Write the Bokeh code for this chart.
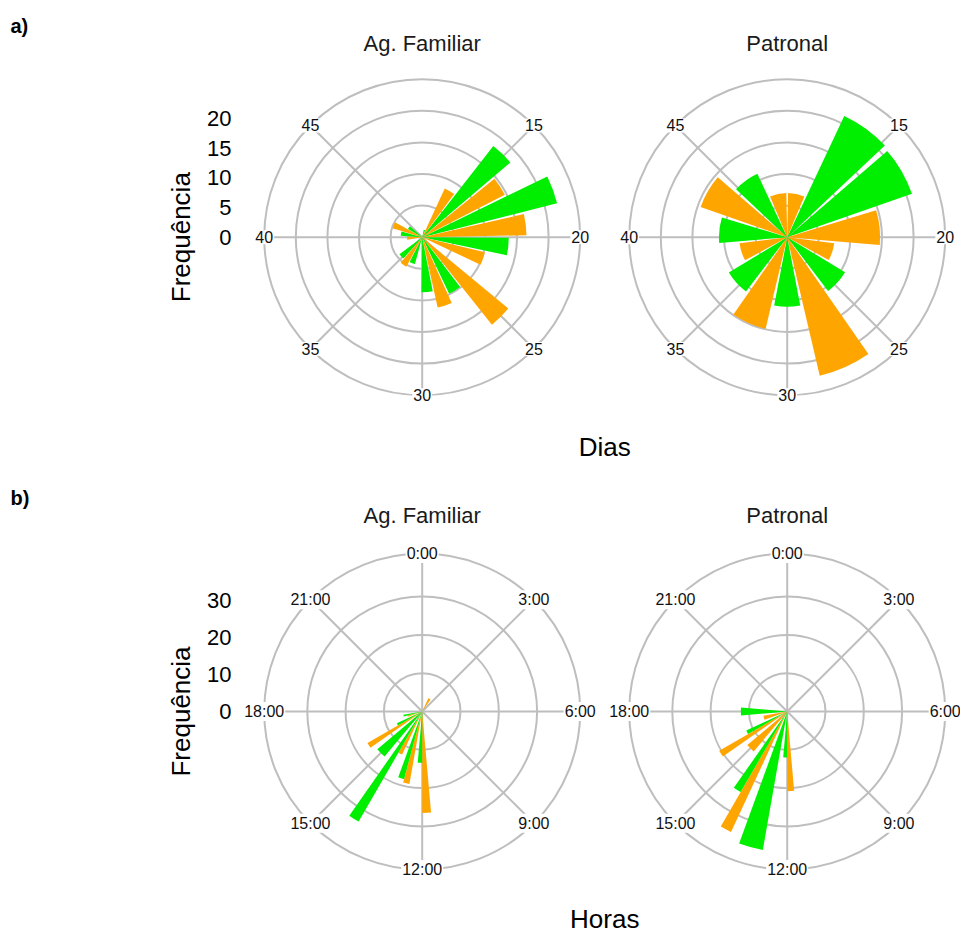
import math
from bokeh.plotting import figure
from bokeh.models import Range1d
from bokeh.layouts import column
from bokeh.embed import file_html
from bokeh.resources import INLINE
from bokeh.core.properties import value

# ------------------------------------------------------------------ data
# a) Dias -- position (day), group ("O" = laranja, "G" = verde), frequency
af_dia_day = [11.95, 13.41, 14.87, 16.32, 17.78, 19.23, 20.69, 22.15, 25.06, 26.51,
              27.97, 29.43, 32.34, 33.79, 35.25, 39.62, 41.07, 42.53, 43.98]
af_dia_grp = ["G", "O", "G", "O", "G", "O", "G", "O", "O", "G",
              "O", "G", "G", "O", "G", "O", "G", "O", "G"]
af_dia_freq = [1.2, 8.5, 18.3, 14.7, 22.0, 16.5, 13.7, 10.2, 17.7, 9.9,
               11.4, 8.7, 4.4, 5.3, 4.5, 2.4, 3.4, 4.9, 2.6]

pa_dia_day = [11.33, 14.0, 16.67, 19.33, 22.0, 24.67, 27.33, 30.0, 32.67, 35.33,
              38.0, 40.67, 43.33, 46.0, 48.67]
pa_dia_grp = ["O", "G", "G", "O", "O", "G", "O", "G", "O", "G",
              "O", "G", "O", "G", "O"]
pa_dia_freq = [7.0, 21.2, 20.9, 14.7, 7.5, 10.7, 22.5, 11.0, 14.9, 10.8,
               7.6, 10.8, 14.5, 11.1, 7.0]

# b) Horas -- hour bin, group, frequency
af_hr_hour = [2, 12, 12, 13, 13, 14, 14, 15, 16, 16, 17, 17]
af_hr_grp = ["O", "O", "G", "O", "G", "O", "G", "G", "O", "G", "O", "G"]
af_hr_freq = [3.8, 26.5, 13.4, 19.2, 18.3, 12.4, 33.2, 15.3, 16.5, 7.3, 4.0, 5.0]

pa_hr_hour = [12, 12, 13, 14, 14, 15, 16, 16, 17, 18]
pa_hr_grp = ["O", "G", "G", "O", "G", "O", "O", "G", "O", "G"]
pa_hr_freq = [20.8, 12.0, 36.7, 34.7, 24.3, 13.6, 20.5, 11.8, 6.3, 12.1]

dia_ticks = [15, 20, 25, 30, 35, 40, 45]
dia_labels = ["15", "20", "25", "30", "35", "40", "45"]
hr_ticks = [0, 3, 6, 9, 12, 15, 18, 21]
hr_labels = ["0:00", "3:00", "6:00", "9:00", "12:00", "15:00", "18:00", "21:00"]
freq_ticks_a = [0, 5, 10, 15, 20]
freq_ticks_b = [0, 10, 20, 30]
rings_a = [5, 10, 15, 20]
rings_b = [10, 20, 30]

# ------------------------------------------------------------------ style / layout
FONT = value("Liberation Sans")
COL = {"O": "#FFA500", "G": "#00EE00"}
GRID = "#BEBEBE"
W = 960
H1, H2 = 466, 466
LEFT = 0
CXL, CXR = 421.7, 786.7          # screen px of panel centres
ROUT_PX = 158.0


def theta_days(d):
    return (d - 10.0) / 40.0 * 360.0


def theta_hours(h):
    return h / 24.0 * 360.0


def dodge(xs, grps, freqs, width):
    order = {"O": 0, "G": 1}
    by_x = {}
    for x, g, f in zip(xs, grps, freqs):
        by_x.setdefault(x, []).append((order[g], g, f))
    out = []
    for x, items in by_x.items():
        items.sort()
        n = len(items)
        w = width / n
        for i, (_, g, f) in enumerate(items):
            c = x - width / 2 + (i + 0.5) * w
            out.append((c, w, f, g))
    return out


def make_row(top, H, S, CY, rlim, rings, panels, theta, ang_ticks, ang_labels,
             draw_top_spoke, fticks, lab_k, xlabel, tag, tag_y, title_y, xlabel_y):
    def px(x):
        return (x - CXL) / S

    def py(y):
        return (CY - y) / S

    p = figure(width=W, height=H, output_backend="svg", toolbar_location=None,
               x_range=Range1d(px(LEFT), px(LEFT + W)),
               y_range=Range1d(py(top + H), py(top)),
               x_axis_type=None, y_axis_type=None, min_border=0,
               outline_line_color=None, background_fill_color="white",
               border_fill_color="white")
    p.grid.visible = False

    centres = [0.0, px(CXR)]
    for cx, (title, xs, gs, fs, width) in zip(centres, panels):
        # grid rings
        rr = rings + [rlim]
        p.circle(x=[cx] * len(rr), y=[0] * len(rr), radius=rr, fill_color=None,
                 line_color=GRID, line_width=2)
        # spokes
        ts = [t for t in ang_ticks if draw_top_spoke or theta(t) % 360 != 0]
        th = [math.radians(theta(t)) for t in ts]
        p.segment(x0=[cx] * len(th), y0=[0] * len(th),
                  x1=[cx + rlim * math.sin(a) for a in th],
                  y1=[rlim * math.cos(a) for a in th], line_color=GRID, line_width=2)
        # bars
        bars = dodge(xs, gs, fs, width)
        sa, ea, rad, cols = [], [], [], []
        for c, w, f, g in bars:
            t1 = theta(c - w / 2)
            t2 = theta(c + w / 2)
            sa.append(math.radians(90 - t1))
            ea.append(math.radians(90 - t2))
            rad.append(f)
            cols.append(COL[g])
        p.wedge(x=[cx] * len(rad), y=[0] * len(rad), radius=rad, start_angle=sa,
                end_angle=ea, direction="clock", fill_color=cols, line_color=None)
        # angle labels
        tha = [math.radians(theta(t)) for t in ang_ticks]
        p.text(x=[cx + rlim * math.sin(a) for a in tha],
               y=[rlim * math.cos(a) for a in tha], text=ang_labels,
               text_font=FONT, text_font_size="16px", text_align="center",
               text_baseline="middle", text_color="#111111",
               background_fill_color="white", padding=1)
        # panel title
        p.text(x=[cx], y=[py(title_y)], text=[title], text_font=FONT,
               text_font_size="22px", text_align="center", text_baseline="middle",
               text_color="#1a1a1a")

    # radial tick labels
    p.text(x=[px(231)] * len(fticks), y=[t * lab_k for t in fticks],
           text=[str(t) for t in fticks], text_font=FONT, text_font_size="22px",
           text_align="right", text_baseline="middle", text_color="#000000")
    p.text(x=[px(180)], y=[0], text=["Frequência"], angle=math.pi / 2,
           text_font=FONT, text_font_size="26px", text_align="center",
           text_baseline="middle", text_color="#000000")
    p.text(x=[px((CXL + CXR) / 2)], y=[py(xlabel_y)], text=[xlabel], text_font=FONT,
           text_font_size="26px", text_align="center", text_baseline="middle",
           text_color="#000000")
    p.text(x=[px(10)], y=[py(tag_y)], text=[tag], text_font=FONT,
           text_font_size="20px", text_font_style="bold", text_align="left",
           text_baseline="middle", text_color="#000000")
    return p


p1 = make_row(0, H1, 6.32, 236.7, 25.0, rings_a,
              [("Ag. Familiar", af_dia_day, af_dia_grp, af_dia_freq, 1.31),
               ("Patronal", pa_dia_day, pa_dia_grp, pa_dia_freq, 2.4)],
              theta_days, dia_ticks, dia_labels, False, freq_ticks_a, 0.94,
              "Dias", "a)", 25.5, 43, 446.7)

p2 = make_row(H1, H2, 3.83, 711.0, ROUT_PX / 3.83, rings_b,
              [("Ag. Familiar", af_hr_hour, af_hr_grp, af_hr_freq, 0.667),
               ("Patronal", pa_hr_hour, pa_hr_grp, pa_hr_freq, 0.667)],
              theta_hours, hr_ticks, hr_labels, True, freq_ticks_b, 0.965,
              "Horas", "b)", 497, 515, 918)

layout = column(p1, p2, spacing=0)
open("out.html", "w").write(file_html(layout, INLINE))
